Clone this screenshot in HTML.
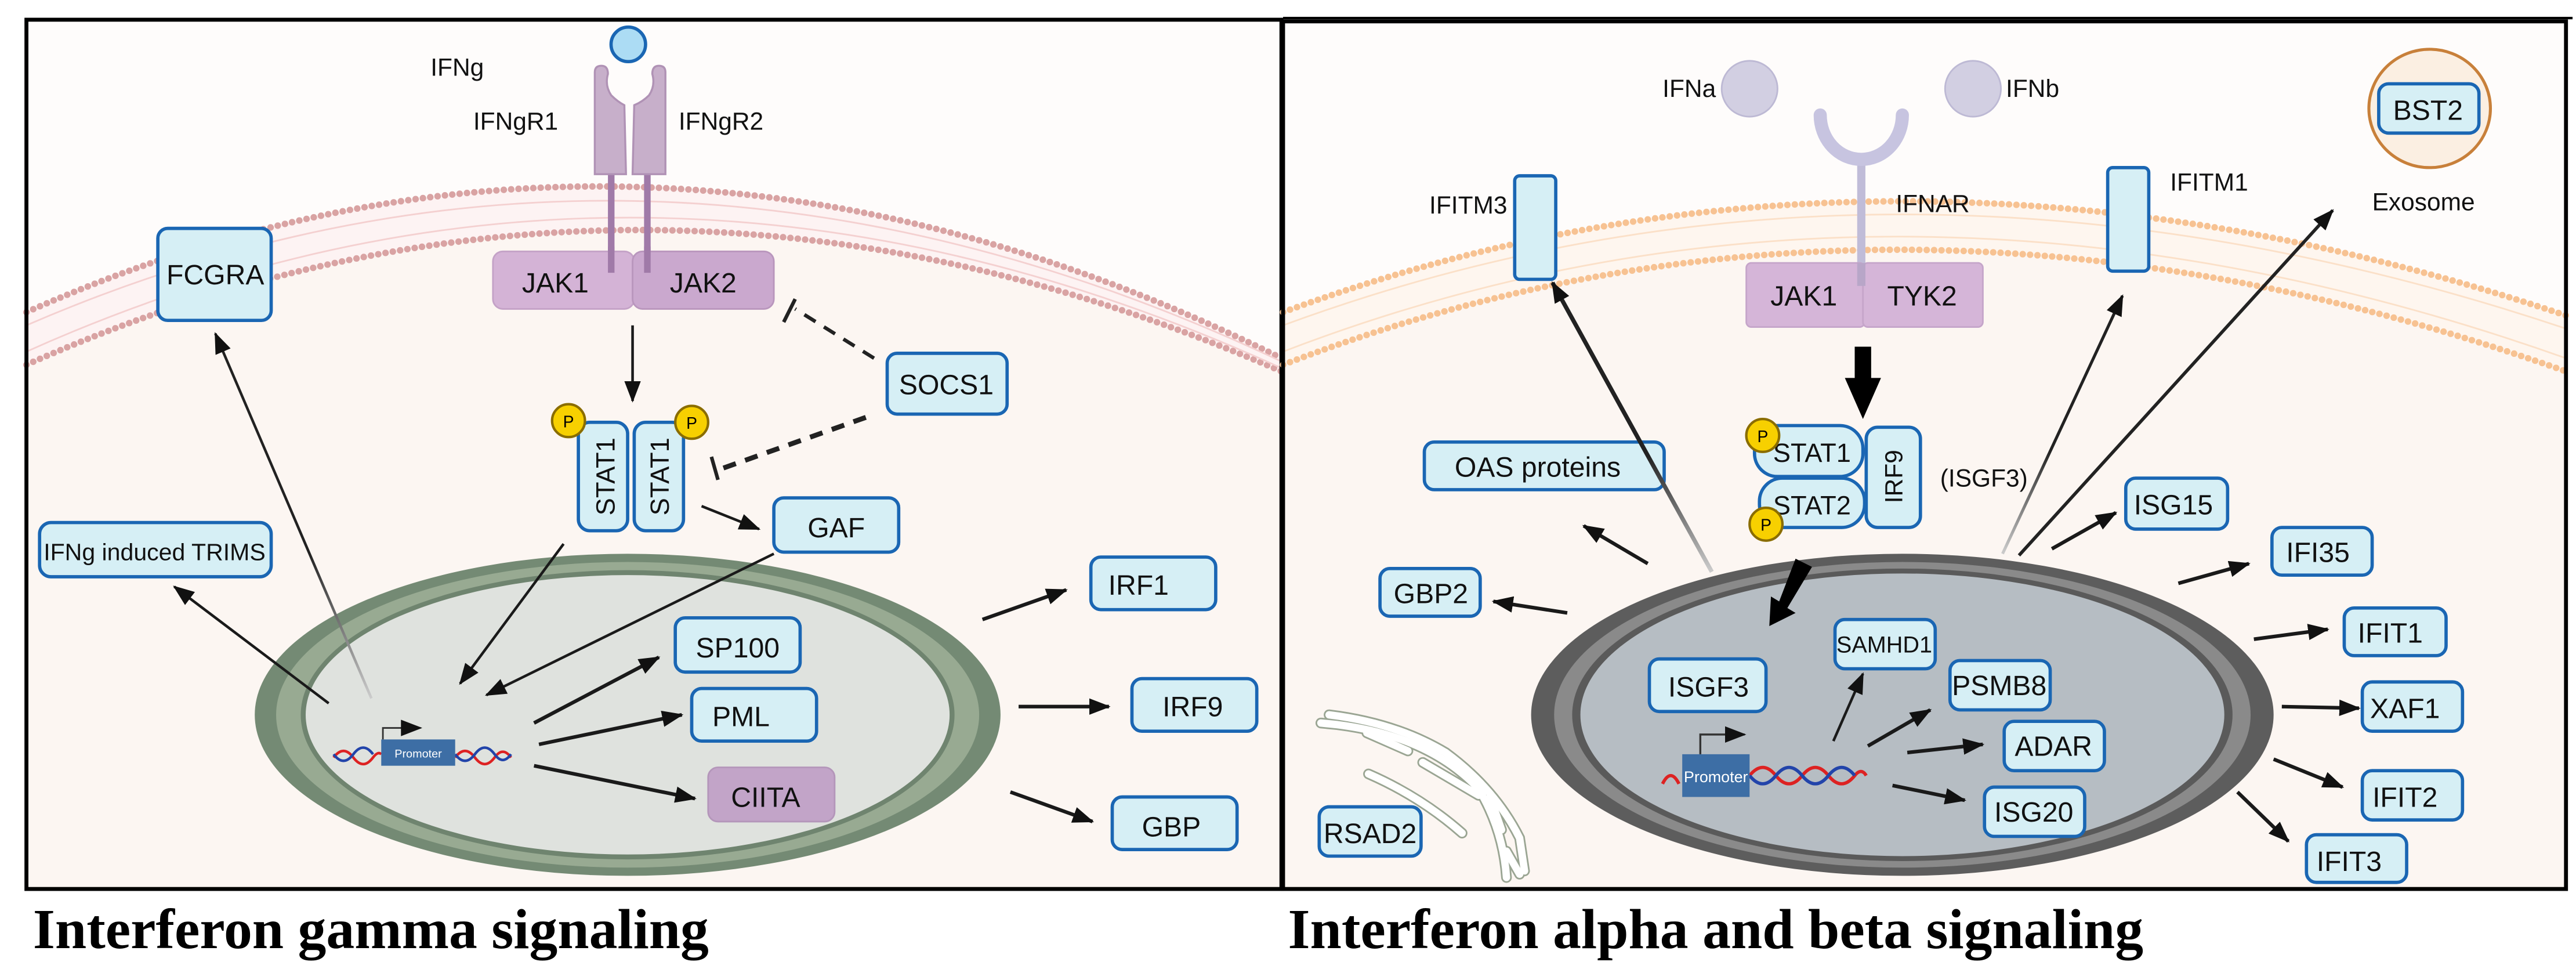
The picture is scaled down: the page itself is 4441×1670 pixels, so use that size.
<!DOCTYPE html>
<html><head><meta charset="utf-8"><style>
html,body{margin:0;padding:0;background:#fff;}
svg{display:block;}
text{font-family:"Liberation Sans",sans-serif;}
.b{fill:#d6eff5;stroke:#1a66b3;stroke-width:2;}
.t{font-size:17px;fill:#111;text-anchor:middle;}
.l{font-size:15px;fill:#111;}
.a{stroke:#1a1a1a;stroke-width:1.6;fill:none;marker-end:url(#ar);}
.a2{stroke:#1a1a1a;stroke-width:2.2;fill:none;marker-end:url(#ar);}
</style></head><body>
<svg width="4441" height="1670" viewBox="0 0 1568 589.7" xmlns="http://www.w3.org/2000/svg">
<defs>
<marker id="ar" markerUnits="userSpaceOnUse" markerWidth="14" markerHeight="12" refX="12" refY="5" orient="auto"><path d="M0,0 L13,5 L0,10 z" fill="#111"/></marker>
<linearGradient id="gf1" x1="0" y1="1" x2="0" y2="0"><stop offset="0" stop-color="#ccc"/><stop offset="0.4" stop-color="#222"/></linearGradient>
<linearGradient id="gfx" x1="1" y1="1" x2="0" y2="0"><stop offset="0" stop-color="#ddd"/><stop offset="0.5" stop-color="#222"/></linearGradient>
</defs>
<rect width="1568" height="590" fill="#fff"/>
<!-- LEFT PANEL -->
<rect x="16" y="12" width="764" height="529" fill="#fefcfb"/>
<path d="M16,222 Q390,56 780,226 L780,541 L16,541 z" fill="#fcf6f2"/>
<path d="M16,190 Q390,24 780,218 L780,226 Q390,56 16,222 z" fill="#fdf3f3"/>
<path d="M16,190 Q390,24 780,218" fill="none" stroke="#d9a3a3" stroke-width="4" stroke-dasharray="0 4.5" stroke-linecap="round"/>
<path d="M16,222 Q390,56 780,226" fill="none" stroke="#d9a3a3" stroke-width="4" stroke-dasharray="0 4.5" stroke-linecap="round"/>
<path d="M16,198 Q390,36 780,220" fill="none" stroke="#f4d0d0" stroke-width="1" />
<path d="M16,214 Q390,46 780,224" fill="none" stroke="#f4d0d0" stroke-width="1" />
<!-- receptors -->
<line x1="372" y1="105" x2="372" y2="166" stroke="#a07aa8" stroke-width="4"/>
<line x1="394" y1="105" x2="394" y2="166" stroke="#a07aa8" stroke-width="4"/>
<path d="M362,44 Q362,40 366,40 Q370,40 370,45 Q368,52 372,58 Q376,62 380,64 L381,106 L362,106 z" fill="#c7afca" stroke="#b092b5" stroke-width="1.2"/>
<path d="M405,44 Q405,40 401,40 Q397,40 397,45 Q399,52 395,58 Q391,62 386,64 L385,106 L405,106 z" fill="#c7afca" stroke="#b092b5" stroke-width="1.2"/>
<circle cx="382.4" cy="27" r="10.5" fill="#acdcf4" stroke="#1a66b3" stroke-width="2"/>
<text class="l" x="262" y="46">IFNg</text>
<text class="l" x="288" y="79">IFNgR1</text>
<text class="l" x="413" y="79">IFNgR2</text>
<rect x="300" y="153" width="86" height="35" rx="6" fill="#d4b3d6" stroke="#c4a2c7" stroke-width="1"/>
<rect x="385" y="153" width="86" height="35" rx="6" fill="#caa8ce" stroke="#b996bd" stroke-width="1"/>
<text class="t" x="338" y="178">JAK1</text>
<text class="t" x="428" y="178">JAK2</text>
<line x1="372" y1="150" x2="372" y2="166" stroke="#a07aa8" stroke-width="4"/>
<line x1="394" y1="150" x2="394" y2="166" stroke="#a07aa8" stroke-width="4"/>
<line class="a" x1="385" y1="198" x2="385" y2="244"/>
<rect x="96" y="139" width="69" height="56" rx="6" class="b"/><text class="t" x="131" y="173">FCGRA</text>
<rect x="540" y="215" width="73" height="37" rx="6" class="b"/><text class="t" x="576" y="240">SOCS1</text>
<path d="M532,218 L484,188" stroke="#222" stroke-width="2.2" stroke-dasharray="8 6" fill="none"/>
<line x1="477" y1="196" x2="484" y2="182" stroke="#222" stroke-width="2.2"/>
<path d="M527,254 L437,286" stroke="#222" stroke-width="3" stroke-dasharray="8 6" fill="none"/>
<line x1="433" y1="278" x2="437" y2="292" stroke="#222" stroke-width="2.2"/>
<rect x="352" y="257" width="30" height="66" rx="7" class="b"/>
<rect x="386" y="257" width="30" height="66" rx="7" class="b"/>
<text class="t" transform="translate(374,290) rotate(-90)" style="font-size:16px">STAT1</text>
<text class="t" transform="translate(407,290) rotate(-90)" style="font-size:16px">STAT1</text>
<circle cx="346" cy="256" r="10" fill="#f7d000" stroke="#8a6d00" stroke-width="1.5"/><text x="346" y="260" style="font-size:10px" text-anchor="middle">P</text>
<circle cx="421" cy="257" r="10" fill="#f7d000" stroke="#8a6d00" stroke-width="1.5"/><text x="421" y="261" style="font-size:10px" text-anchor="middle">P</text>
<line class="a" x1="427" y1="308" x2="462" y2="322"/>
<rect x="471" y="303" width="76" height="33" rx="6" class="b"/><text class="t" x="509" y="327">GAF</text>
<rect x="24" y="318" width="141" height="33" rx="7" class="b"/><text class="t" x="94" y="341" style="font-size:14.5px">IFNg induced TRIMS</text>
<!-- nucleus left -->
<ellipse cx="382" cy="435" rx="227" ry="98" fill="#748a74"/>
<ellipse cx="382" cy="435" rx="214" ry="93" fill="#98aa92"/>
<ellipse cx="382" cy="435" rx="199" ry="88" fill="#6f846f"/>
<ellipse cx="382" cy="435" rx="196" ry="85" fill="#dfe2de"/>
<path d="M203,461 q6,-8 12,0 q6,8 12,0 q3,-4 5,-2" stroke="#d22" stroke-width="1.6" fill="none"/>
<path d="M203,459 q6,8 12,0 q6,-8 12,0" stroke="#24a" stroke-width="1.6" fill="none"/>
<path d="M277,461 q6,-8 12,0 q6,8 12,0 q5,-7 10,0" stroke="#d22" stroke-width="1.6" fill="none"/>
<path d="M277,459 q6,8 12,0 q6,-8 12,0 q5,7 10,0" stroke="#24a" stroke-width="1.6" fill="none"/>
<rect x="232" y="450" width="45" height="16" fill="#3d6ea5"/>
<text x="254.5" y="461" style="font-size:7px" fill="#fff" text-anchor="middle">Promoter</text>
<path d="M233,450 L233,443 L256,443" stroke="#333" stroke-width="1" fill="none" marker-end="url(#ar)"/>
<line class="a" x1="343" y1="331" x2="280" y2="416"/>
<line class="a" x1="471" y1="337" x2="296" y2="423"/>
<line class="a2" x1="325" y1="440" x2="401" y2="400"/>
<line class="a2" x1="328" y1="453" x2="415" y2="435"/>
<line class="a2" x1="325" y1="466" x2="423" y2="486"/>
<line class="a" x1="200" y1="428" x2="106" y2="357"/>
<line x1="226" y1="425" x2="131" y2="203" stroke="url(#gf1)" stroke-width="1.6" marker-end="url(#ar)"/>
<rect x="411" y="376" width="76" height="33" rx="6" class="b"/><text class="t" x="449" y="400">SP100</text>
<rect x="421" y="419" width="76" height="32" rx="6" class="b"/><text class="t" x="451" y="442">PML</text>
<rect x="431" y="467" width="77" height="33" rx="6" fill="#c2a4c8" stroke="#b496ba" stroke-width="1"/><text class="t" x="466" y="491">CIITA</text>
<line class="a2" x1="598" y1="377" x2="649" y2="359"/>
<line class="a2" x1="620" y1="430" x2="675" y2="430"/>
<line class="a2" x1="615" y1="482" x2="665" y2="500"/>
<rect x="664" y="339" width="76" height="32" rx="6" class="b"/><text class="t" x="693" y="362">IRF1</text>
<rect x="689" y="413" width="76" height="32" rx="6" class="b"/><text class="t" x="726" y="436">IRF9</text>
<rect x="677" y="485" width="76" height="32" rx="6" class="b"/><text class="t" x="713" y="509">GBP</text>
<rect x="16" y="12" width="764" height="529" fill="none" stroke="#000" stroke-width="2.4"/>
<!-- RIGHT PANEL -->
<rect x="781" y="13" width="781" height="528" fill="#fefcfb"/>
<path d="M781,222 Q1150,80 1562,226 L1562,541 L781,541 z" fill="#fcf6f2"/>
<path d="M781,190 Q1150,54 1562,192 L1562,226 Q1150,80 781,222 z" fill="#fef6ef"/>
<path d="M781,190 Q1150,54 1562,192" fill="none" stroke="#f7c292" stroke-width="4" stroke-dasharray="0 4.5" stroke-linecap="round"/>
<path d="M781,222 Q1150,80 1562,226" fill="none" stroke="#f7c292" stroke-width="4" stroke-dasharray="0 4.5" stroke-linecap="round"/>
<path d="M781,198 Q1150,62 1562,200" fill="none" stroke="#fbe0c8" stroke-width="1" />
<path d="M781,214 Q1150,72 1562,218" fill="none" stroke="#fbe0c8" stroke-width="1" />
<circle cx="1065" cy="54" r="17" fill="#d2cfe2" stroke="#bdb9d4" stroke-width="1"/>
<circle cx="1201" cy="54" r="17" fill="#d2cfe2" stroke="#bdb9d4" stroke-width="1"/>
<text class="l" x="1012" y="59">IFNa</text>
<text class="l" x="1221" y="59">IFNb</text>
<line x1="1133" y1="98" x2="1133" y2="174" stroke="#c0bcd8" stroke-width="5"/>
<path d="M1108,70 A25,27 0 0 0 1158,70" fill="none" stroke="#c7c4e0" stroke-width="8" stroke-linecap="round"/>
<text class="l" x="1154" y="129">IFNAR</text>
<rect x="1063" y="160" width="72" height="39" rx="3" fill="#d5b5d8" stroke="#c5a5ca" stroke-width="1"/>
<rect x="1134" y="160" width="73" height="39" rx="3" fill="#d5b5d8" stroke="#c5a5ca" stroke-width="1"/>
<line x1="1133" y1="160" x2="1133" y2="174" stroke="#b8a6c8" stroke-width="5"/>
<text class="t" x="1098" y="186">JAK1</text><text class="t" x="1170" y="186">TYK2</text>
<path d="M1129,211 L1139,211 L1139,230 L1145,230 L1134,255 L1123,230 L1129,230 z" fill="#000"/>
<text class="l" x="870" y="130">IFITM3</text>
<rect x="922" y="107" width="25" height="63" rx="3" class="b"/>
<text class="l" x="1321" y="116">IFITM1</text>
<rect x="1283" y="102" width="25" height="63" rx="3" class="b"/>
<ellipse cx="1479" cy="66" rx="37" ry="36" fill="#fbefe2" stroke="#c8803a" stroke-width="1.8"/>
<rect x="1448" y="51" width="61" height="30" rx="6" class="b"/><text class="t" x="1478" y="73">BST2</text>
<text class="l" x="1444" y="128">Exosome</text>
<rect x="1071" y="291" width="64" height="30" rx="14" class="b"/>
<rect x="1068" y="259" width="66" height="31" rx="14" class="b"/>
<rect x="1136" y="260" width="33" height="61" rx="7" class="b"/>
<text class="t" x="1103" y="281" style="font-size:16px">STAT1</text>
<text class="t" x="1103" y="313" style="font-size:16px">STAT2</text>
<text class="t" transform="translate(1158,290) rotate(-90)" style="font-size:15px">IRF9</text>
<circle cx="1073" cy="265" r="10" fill="#f7d000" stroke="#8a6d00" stroke-width="1.5"/><text x="1073" y="269" style="font-size:10px" text-anchor="middle">P</text>
<circle cx="1075" cy="319" r="10" fill="#f7d000" stroke="#8a6d00" stroke-width="1.5"/><text x="1075" y="323" style="font-size:10px" text-anchor="middle">P</text>
<text class="l" x="1181" y="296">(ISGF3)</text>
<rect x="867" y="269" width="146" height="29" rx="6" class="b"/><text class="t" x="936" y="290">OAS proteins</text>
<rect x="840" y="346" width="61" height="29" rx="6" class="b"/><text class="t" x="871" y="367">GBP2</text>
<!-- ER -->
<g fill="none" stroke="#9aa593" stroke-width="6.5" stroke-linecap="round">
<path d="M804,440 L814,441 Q870,448 900,480 Q915,505 917,534"/>
<path d="M809,435 Q850,440 880,458"/>
<path d="M832,446 L857,457"/>
<path d="M866,464 L900,484"/>
<path d="M833,471 Q865,485 890,507"/>
<path d="M907,485 L914,505"/>
<path d="M917,518 L925,532"/>
<path d="M880,458 Q910,480 925,510 L928,530"/>
</g>
<g fill="none" stroke="#fff" stroke-width="4.5" stroke-linecap="round">
<path d="M804,440 L814,441 Q870,448 900,480 Q915,505 917,534"/>
<path d="M809,435 Q850,440 880,458"/>
<path d="M832,446 L857,457"/>
<path d="M866,464 L900,484"/>
<path d="M833,471 Q865,485 890,507"/>
<path d="M907,485 L914,505"/>
<path d="M917,518 L925,532"/>
<path d="M880,458 Q910,480 925,510 L928,530"/>
</g>
<rect x="803" y="491" width="62" height="30" rx="6" class="b"/><text class="t" x="834" y="513">RSAD2</text>
<!-- nucleus right -->
<ellipse cx="1158" cy="435" rx="226" ry="98" fill="#5d5d5d"/>
<ellipse cx="1158" cy="435" rx="212" ry="93" fill="#8a8a8a"/>
<ellipse cx="1158" cy="435" rx="201" ry="89" fill="#5a5a5a"/>
<ellipse cx="1158" cy="435" rx="196" ry="86" fill="#b6bdc3"/>
<path d="M1012,477 q5,-10 10,0" stroke="#d22" stroke-width="2" fill="none"/>
<path d="M1065,472 q8,-10 16,0 q8,10 16,0 q8,-10 16,0 q8,10 16,0 q4,-5 7,0" stroke="#d22" stroke-width="2" fill="none"/>
<path d="M1065,472 q8,10 16,0 q8,-10 16,0 q8,10 16,0 q8,-10 16,0" stroke="#24a" stroke-width="2" fill="none"/>
<rect x="1024" y="459" width="41" height="26" fill="#3d6ea5"/>
<text x="1044.5" y="476" style="font-size:9.5px" fill="#fff" text-anchor="middle">Promoter</text>
<path d="M1035,459 L1035,447 L1062,447" stroke="#333" stroke-width="1.2" fill="none" marker-end="url(#ar)"/>
<rect x="1004" y="401" width="71" height="32" rx="6" class="b"/><text class="t" x="1040" y="424">ISGF3</text>
<rect x="1117" y="377" width="61" height="30" rx="6" class="b"/><text class="t" x="1147" y="397" style="font-size:14px">SAMHD1</text>
<rect x="1187" y="402" width="61" height="30" rx="6" class="b"/><text class="t" x="1217" y="423">PSMB8</text>
<rect x="1220" y="439" width="61" height="30" rx="6" class="b"/><text class="t" x="1250" y="460">ADAR</text>
<rect x="1208" y="479" width="61" height="30" rx="6" class="b"/><text class="t" x="1238" y="500">ISG20</text>
<path d="M1093,340 L1103,345 L1088,370 L1093,373 L1077,381 L1078,363 L1083,366 z" fill="#000"/>
<line class="a" x1="1116" y1="451" x2="1134" y2="410"/>
<line class="a2" x1="1137" y1="454" x2="1175" y2="432"/>
<line class="a2" x1="1161" y1="458" x2="1207" y2="453"/>
<line class="a2" x1="1152" y1="478" x2="1196" y2="487"/>
<line x1="1042" y1="348" x2="945" y2="172" stroke="url(#gf1)" stroke-width="2.6" marker-end="url(#ar)"/>
<line class="a2" x1="1003" y1="343" x2="964" y2="320"/>
<line class="a2" x1="954" y1="373" x2="909" y2="366"/>
<line x1="1219" y1="337" x2="1292" y2="180" stroke="url(#gf1)" stroke-width="1.8" marker-end="url(#ar)"/>
<line x1="1229" y1="338" x2="1420" y2="128" stroke="url(#gfx)" stroke-width="2" marker-end="url(#ar)"/>
<line class="a2" x1="1249" y1="334" x2="1288" y2="312"/>
<line class="a2" x1="1326" y1="355" x2="1369" y2="343"/>
<line class="a2" x1="1372" y1="389" x2="1417" y2="383"/>
<line class="a2" x1="1389" y1="430" x2="1436" y2="431"/>
<line class="a2" x1="1384" y1="462" x2="1426" y2="479"/>
<line class="a2" x1="1362" y1="482" x2="1393" y2="512"/>
<rect x="1294" y="291" width="62" height="31" rx="6" class="b"/><text class="t" x="1323" y="313">ISG15</text>
<rect x="1383" y="321" width="61" height="29" rx="6" class="b"/><text class="t" x="1411" y="342">IFI35</text>
<rect x="1427" y="370" width="62" height="29" rx="6" class="b"/><text class="t" x="1455" y="391">IFIT1</text>
<rect x="1438" y="415" width="61" height="30" rx="6" class="b"/><text class="t" x="1464" y="437">XAF1</text>
<rect x="1438" y="469" width="61" height="30" rx="6" class="b"/><text class="t" x="1464" y="491">IFIT2</text>
<rect x="1404" y="508" width="61" height="29" rx="6" class="b"/><text class="t" x="1430" y="530">IFIT3</text>
<rect x="781" y="13" width="781" height="528" fill="none" stroke="#000" stroke-width="2.4"/>
<line x1="781" y1="11" x2="1566" y2="11" stroke="#000" stroke-width="1.5"/>
<text x="20" y="577" style="font-family:'Liberation Serif',serif;font-weight:bold;font-size:34.5px" fill="#000">Interferon gamma signaling</text>
<text x="784" y="577" style="font-family:'Liberation Serif',serif;font-weight:bold;font-size:34.5px" fill="#000">Interferon alpha and beta signaling</text>
</svg>
</body></html>
